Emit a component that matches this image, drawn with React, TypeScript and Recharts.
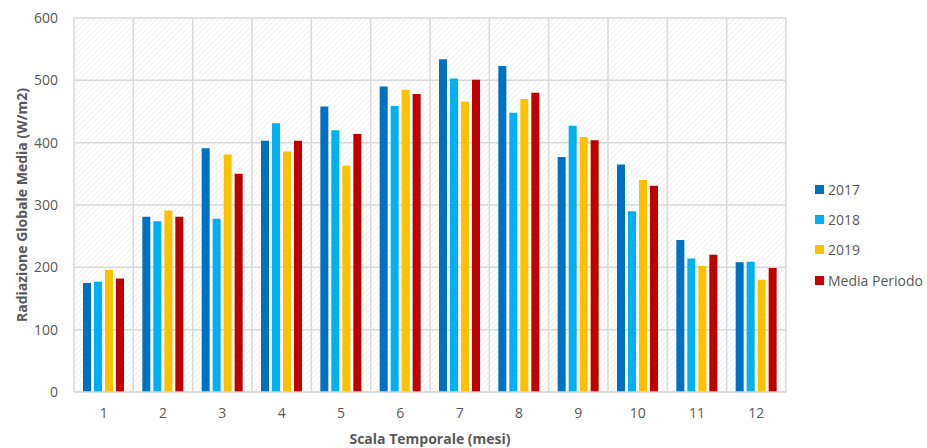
import React from "react";
import { BarChart, Bar, XAxis, YAxis, CartesianGrid } from "recharts";

const months = ["1", "2", "3", "4", "5", "6", "7", "8", "9", "10", "11", "12"];
const y2017 = [175, 281, 391, 403, 458, 490, 534, 523, 377, 365, 244, 208];
const y2018 = [177, 274, 278, 431, 420, 459, 503, 448, 427, 290, 214, 209];
const y2019 = [196, 291, 381, 386, 363, 485, 466, 470, 409, 340, 202, 180];
const mediaPeriodo = [182, 281, 350, 403, 414, 478, 501, 480, 404, 331, 220, 199];
const yTicks = [0, 100, 200, 300, 400, 500, 600];

const series = [
  { key: "y2017", name: "2017", color: "#0070C0" },
  { key: "y2018", name: "2018", color: "#00B0F0" },
  { key: "y2019", name: "2019", color: "#FFC000" },
  { key: "media", name: "Media Periodo", color: "#C00000" },
];

const data = months.map((m, i) => ({
  month: m,
  y2017: y2017[i],
  y2018: y2018[i],
  y2019: y2019[i],
  media: mediaPeriodo[i],
}));

const font = "'Open Sans', 'Noto Sans', sans-serif";
const textColor = "#595959";

function LegendBox() {
  return (
    <div style={{ position: "absolute", left: 815, top: 174, fontFamily: font, fontSize: 14, color: textColor }}>
      {series.map((s) => (
        <div key={s.key} style={{ display: "flex", alignItems: "center", height: 30.3 }}>
          <span style={{ width: 9, height: 9, background: s.color, marginRight: 4 }} />
          <span>{s.name}</span>
        </div>
      ))}
    </div>
  );
}

export default function App() {
  return (
    <div style={{ position: "relative", width: 927, height: 448, background: "#fff" }}>
      <style>{`body{margin:0}`}</style>
      <BarChart
        width={927}
        height={448}
        data={data}
        margin={{ top: 18, right: 141, bottom: 0, left: 0 }}
        barCategoryGap="15%"
        barGap={3}
      >
        <defs>
          <pattern id="hatch" width="4" height="4" patternUnits="userSpaceOnUse" patternTransform="rotate(45)">
            <rect width="4" height="4" fill="#ffffff" />
            <line x1="0" y1="0" x2="0" y2="4" stroke="#E9E9E9" strokeWidth="1.2" />
          </pattern>
        </defs>
        <CartesianGrid
          fill="url(#hatch)"
          stroke="#D9D9D9"
          strokeWidth={1.5}
          verticalCoordinatesGenerator={({ offset }: any) =>
            months.map((_, i) => offset.left + (i * offset.width) / months.length).concat(offset.left + offset.width)
          }
        />
        <XAxis
          dataKey="month"
          height={56}
          tickLine={false}
          tickSize={8}
          tickMargin={8}
          axisLine={{ stroke: "#D9D9D9", strokeWidth: 1.5 }}
          tick={{ fill: textColor, fontSize: 14, fontFamily: font }}
          label={{
            value: "Scala Temporale (mesi)",
            position: "insideBottom",
            offset: 4,
            style: { fill: textColor, fontSize: 14, fontWeight: 700, fontFamily: font },
          }}
        />
        <YAxis
          width={74}
          domain={[0, 600]}
          ticks={yTicks}
          axisLine={false}
          tickLine={false}
          tickSize={8}
          tickMargin={8}
          tick={{ fill: textColor, fontSize: 14, fontFamily: font }}
          label={{
            value: "Radiazione Globale Media (W/m2)",
            angle: -90,
            position: "insideLeft",
            offset: 22,
            style: { textAnchor: "middle", fill: textColor, fontSize: 14, fontWeight: 700, fontFamily: font },
          }}
        />
        {series.map((s) => (
          <Bar key={s.key} dataKey={s.key} name={s.name} fill={s.color} barSize={8} isAnimationActive={false} />
        ))}
      </BarChart>
      <LegendBox />
    </div>
  );
}
